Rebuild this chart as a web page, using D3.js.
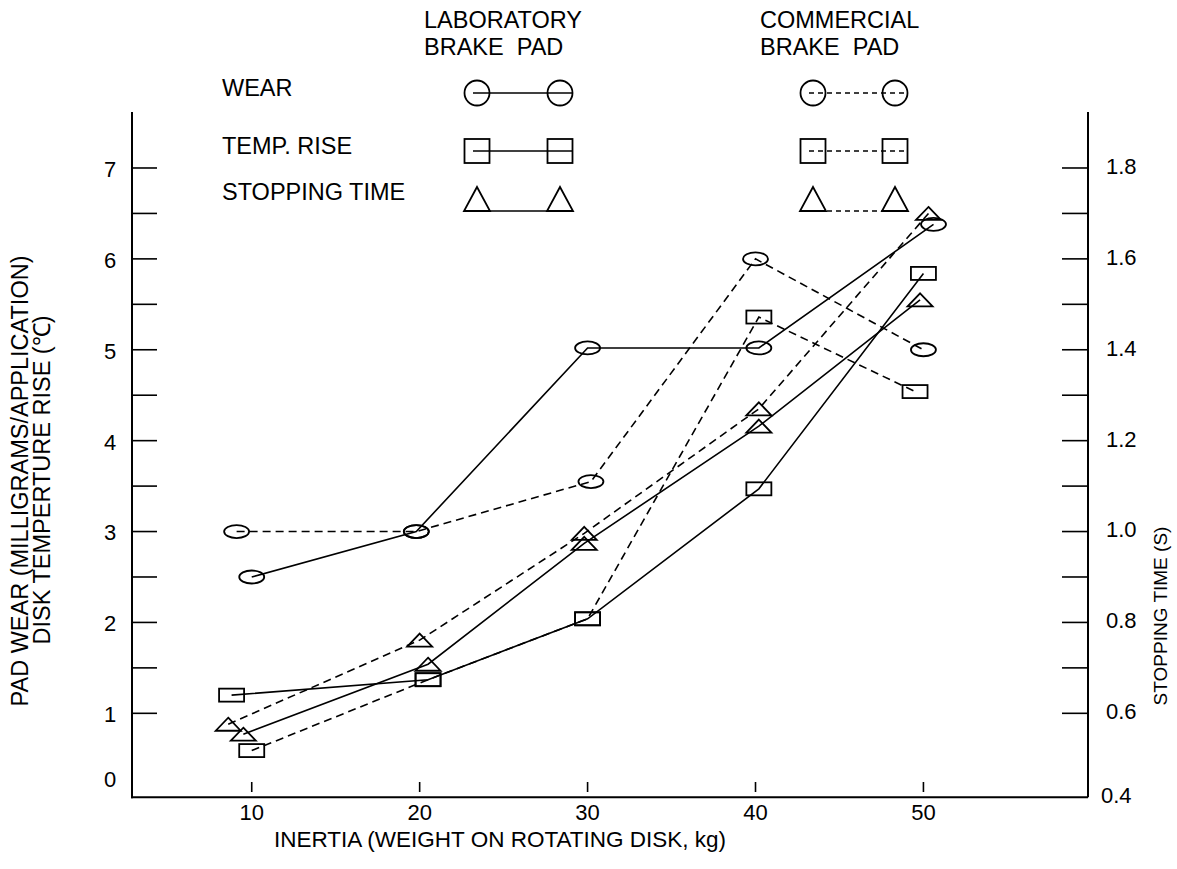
<!DOCTYPE html>
<html>
<head>
<meta charset="utf-8">
<script src="https://cdn.jsdelivr.net/npm/d3@7"></script>
<style>
  html, body { margin: 0; padding: 0; background: #fff; }
  svg text { font-family: "Liberation Sans", Arial, sans-serif; fill: #000; }
</style>
</head>
<body>
<svg id="chart" width="1177" height="869"></svg>
<script>
// ---------- data ----------
const xTickValues = [10, 20, 30, 40, 50];
const leftTickValues = [1, 2, 3, 4, 5, 6, 7];
const leftMinorTicks = [1.5, 2.5, 3.5, 4.5, 5.5, 6.5];
const rightTickValues = [0.6, 0.8, 1.0, 1.2, 1.4, 1.6, 1.8];
const rightMinorTicks = [0.7, 0.9, 1.1, 1.3, 1.5, 1.7];
const rightTickLabels = ["0.6", "0.8", "1.0", "1.2", "1.4", "1.6", "1.8"];

// Pad wear (mg/application) — left axis
const labWearX  = [10.0, 19.8, 30.0, 40.2, 50.6];
const labWear   = [2.50, 3.00, 5.02, 5.02, 6.38];
const commWearX = [9.1, 19.8, 30.2, 40.0, 50.0];
const commWear  = [3.00, 3.00, 3.55, 6.00, 5.00];

// Disk temperature rise (°C) — left axis
const labTempX  = [8.8, 20.5, 30.0, 40.2, 50.0];
const labTemp   = [1.20, 1.37, 2.04, 3.47, 5.84];
const commTempX = [10.0, 20.5, 30.0, 40.2, 49.5];
const commTemp  = [0.59, 1.37, 2.04, 5.36, 4.54];

// Stopping time (s) — right axis
const labStopX  = [9.5, 20.5, 29.8, 40.2, 49.8];
const labStop   = [0.554, 0.708, 0.974, 1.232, 1.51];
const commStopX = [8.6, 20.0, 29.8, 40.2, 50.3];
const commStop  = [0.576, 0.761, 0.996, 1.27, 1.70];

// ---------- layout ----------
const svg = d3.select("#chart");
const L = 132, R = 1088, T = 112, B = 797.3;

const x = d3.scaleLinear().domain([2.87, 59.8]).range([L, R]);
const yL = d3.scaleLinear().domain([0.076, 7.616]).range([B, T]);
const yR = d3.scaleLinear().domain([0.4 + 0.2 * 0.076, 0.4 + 0.2 * 7.616]).range([B, T]);

const FS = 22;      // tick labels
const FT = 22.5;    // x-axis title
const FL = 23.5;    // left title & legend

// ---------- axes ----------
const ax = svg.append("g").attr("stroke", "#000").attr("stroke-width", 2);
ax.append("line").attr("x1", L).attr("x2", L).attr("y1", T).attr("y2", B + 1);
ax.append("line").attr("x1", R).attr("x2", R).attr("y1", T).attr("y2", B);
ax.append("line").attr("x1", L - 1).attr("x2", R).attr("y1", B).attr("y2", B);

// left ticks (inward)
ax.selectAll(".lt").data(leftTickValues.concat(leftMinorTicks)).enter().append("line")
  .attr("x1", L).attr("x2", L + 25)
  .attr("y1", d => yL(d)).attr("y2", d => yL(d)).attr("stroke-width", 1.6);
// right ticks (inward)
ax.selectAll(".rt").data(rightTickValues.concat(rightMinorTicks)).enter().append("line")
  .attr("x1", R - 26).attr("x2", R)
  .attr("y1", d => yR(d)).attr("y2", d => yR(d)).attr("stroke-width", 1.6);
// x ticks: small marks above the axis
ax.selectAll(".xt").data(xTickValues).enter().append("line")
  .attr("x1", d => x(d)).attr("x2", d => x(d))
  .attr("y1", 782).attr("y2", 792).attr("stroke-width", 1.6);

// tick labels
svg.selectAll(".ll").data(leftTickValues).enter().append("text")
  .attr("x", 110).attr("y", d => yL(d) + 1).attr("dy", "0.36em")
  .attr("text-anchor", "middle").attr("font-size", FS).text(d => d);
svg.append("text").attr("x", 110).attr("y", yL(0.28)).attr("dy", "0.36em")
  .attr("text-anchor", "middle").attr("font-size", FS).text("0");

svg.selectAll(".rl").data(rightTickValues).enter().append("text")
  .attr("x", 1106).attr("y", d => yR(d) - 2).attr("dy", "0.36em")
  .attr("font-size", FS).text((d, i) => rightTickLabels[i]);
svg.append("text").attr("x", 1101).attr("y", yR(0.42)).attr("dy", "0.36em")
  .attr("font-size", FS).text("0.4");

svg.selectAll(".xl").data(xTickValues).enter().append("text")
  .attr("x", d => x(d)).attr("y", 812).attr("dy", "0.36em")
  .attr("text-anchor", "middle").attr("font-size", FS).text(d => d);

// axis titles
svg.append("text").attr("x", 500).attr("y", 839).attr("dy", "0.36em")
  .attr("text-anchor", "middle").attr("font-size", FT)
  .text("INERTIA (WEIGHT ON ROTATING DISK, kg)");
svg.append("text").attr("transform", "translate(20,481) rotate(-90)").attr("dy", "0.36em")
  .attr("text-anchor", "middle").attr("font-size", FL)
  .text("PAD WEAR (MILLIGRAMS/APPLICATION)");
svg.append("text").attr("transform", "translate(42,480) rotate(-90)").attr("dy", "0.36em")
  .attr("text-anchor", "middle").attr("font-size", FL)
  .text("DISK TEMPERTURE RISE (\u2103)");
svg.append("text").attr("transform", "translate(1160,616) rotate(-90)").attr("dy", "0.36em")
  .attr("text-anchor", "middle").attr("font-size", 19)
  .text("STOPPING TIME (S)");

// ---------- markers ----------
function marker(g, type, cx, cy, w, h) {
  if (type === "circle") {
    g.append("ellipse").attr("cx", cx).attr("cy", cy).attr("rx", w / 2).attr("ry", h / 2);
  } else if (type === "square") {
    g.append("rect").attr("x", cx - w / 2).attr("y", cy - h / 2).attr("width", w).attr("height", h);
  } else {
    g.append("path").attr("d", `M${cx},${cy - h / 2}L${cx + w / 2},${cy + h / 2}L${cx - w / 2},${cy + h / 2}Z`);
  }
}

const series = [
  { xs: labWearX,  ys: labWear,  scale: yL, type: "circle", dash: null },
  { xs: commWearX, ys: commWear, scale: yL, type: "circle", dash: "8,5" },
  { xs: labTempX,  ys: labTemp,  scale: yL, type: "square", dash: null },
  { xs: commTempX, ys: commTemp, scale: yL, type: "square", dash: "8,5" },
  { xs: labStopX,  ys: labStop,  scale: yR, type: "triangle", dash: null },
  { xs: commStopX, ys: commStop, scale: yR, type: "triangle", dash: "8,5" }
];

const plot = svg.append("g");
const line = d3.line();
series.forEach(s => {
  const pts = s.xs.map((v, i) => [x(v), s.scale(s.ys[i])]);
  plot.append("path").attr("d", line(pts)).attr("fill", "none")
    .attr("stroke", "#000").attr("stroke-width", 1.6)
    .attr("stroke-dasharray", s.dash);
});
const mk = svg.append("g").attr("fill", "none").attr("stroke", "#000").attr("stroke-width", 1.8);
series.forEach(s => {
  s.xs.forEach((v, i) => {
    marker(mk, s.type, x(v), s.scale(s.ys[i]), 25, 13);
  });
});

// ---------- legend ----------
const lg = svg.append("g");
const hdr = [["LABORATORY", "BRAKE  PAD", 424], ["COMMERCIAL", "BRAKE  PAD", 760]];
hdr.forEach(h => {
  lg.append("text").attr("x", h[2]).attr("y", 20).attr("dy", "0.36em").attr("font-size", FL).attr("xml:space", "preserve").text(h[0]);
  lg.append("text").attr("x", h[2]).attr("y", 47).attr("dy", "0.36em").attr("font-size", FL).attr("xml:space", "preserve").text(h[1]);
});
const rows = [["WEAR", 88, "circle", 93], ["TEMP. RISE", 146, "square", 151], ["STOPPING TIME", 192, "triangle", 199]];
const cols = [[477, 560, null], [813, 895, "5,4"]];
rows.forEach(r => {
  lg.append("text").attr("x", 222).attr("y", r[1]).attr("dy", "0.36em").attr("font-size", FL).text(r[0]);
  cols.forEach(c => {
    const ly = r[2] === "triangle" ? r[3] + 12 : r[3];
    const x1 = r[2] === "triangle" ? c[0] - 13 : c[0] - 4;
    lg.append("line").attr("x1", x1).attr("x2", c[1] + 13).attr("y1", ly).attr("y2", ly)
      .attr("stroke", "#000").attr("stroke-width", 1.6).attr("stroke-dasharray", c[2]);
    const g = lg.append("g").attr("fill", "none").attr("stroke", "#000").attr("stroke-width", 1.8);
    const w = r[2] === "triangle" ? 26 : 25;
    marker(g, r[2], c[0], r[3], w, r[2] === "circle" ? 25 : 24);
    marker(g, r[2], c[1], r[3], w, r[2] === "circle" ? 25 : 24);
  });
});
</script>
</body>
</html>
